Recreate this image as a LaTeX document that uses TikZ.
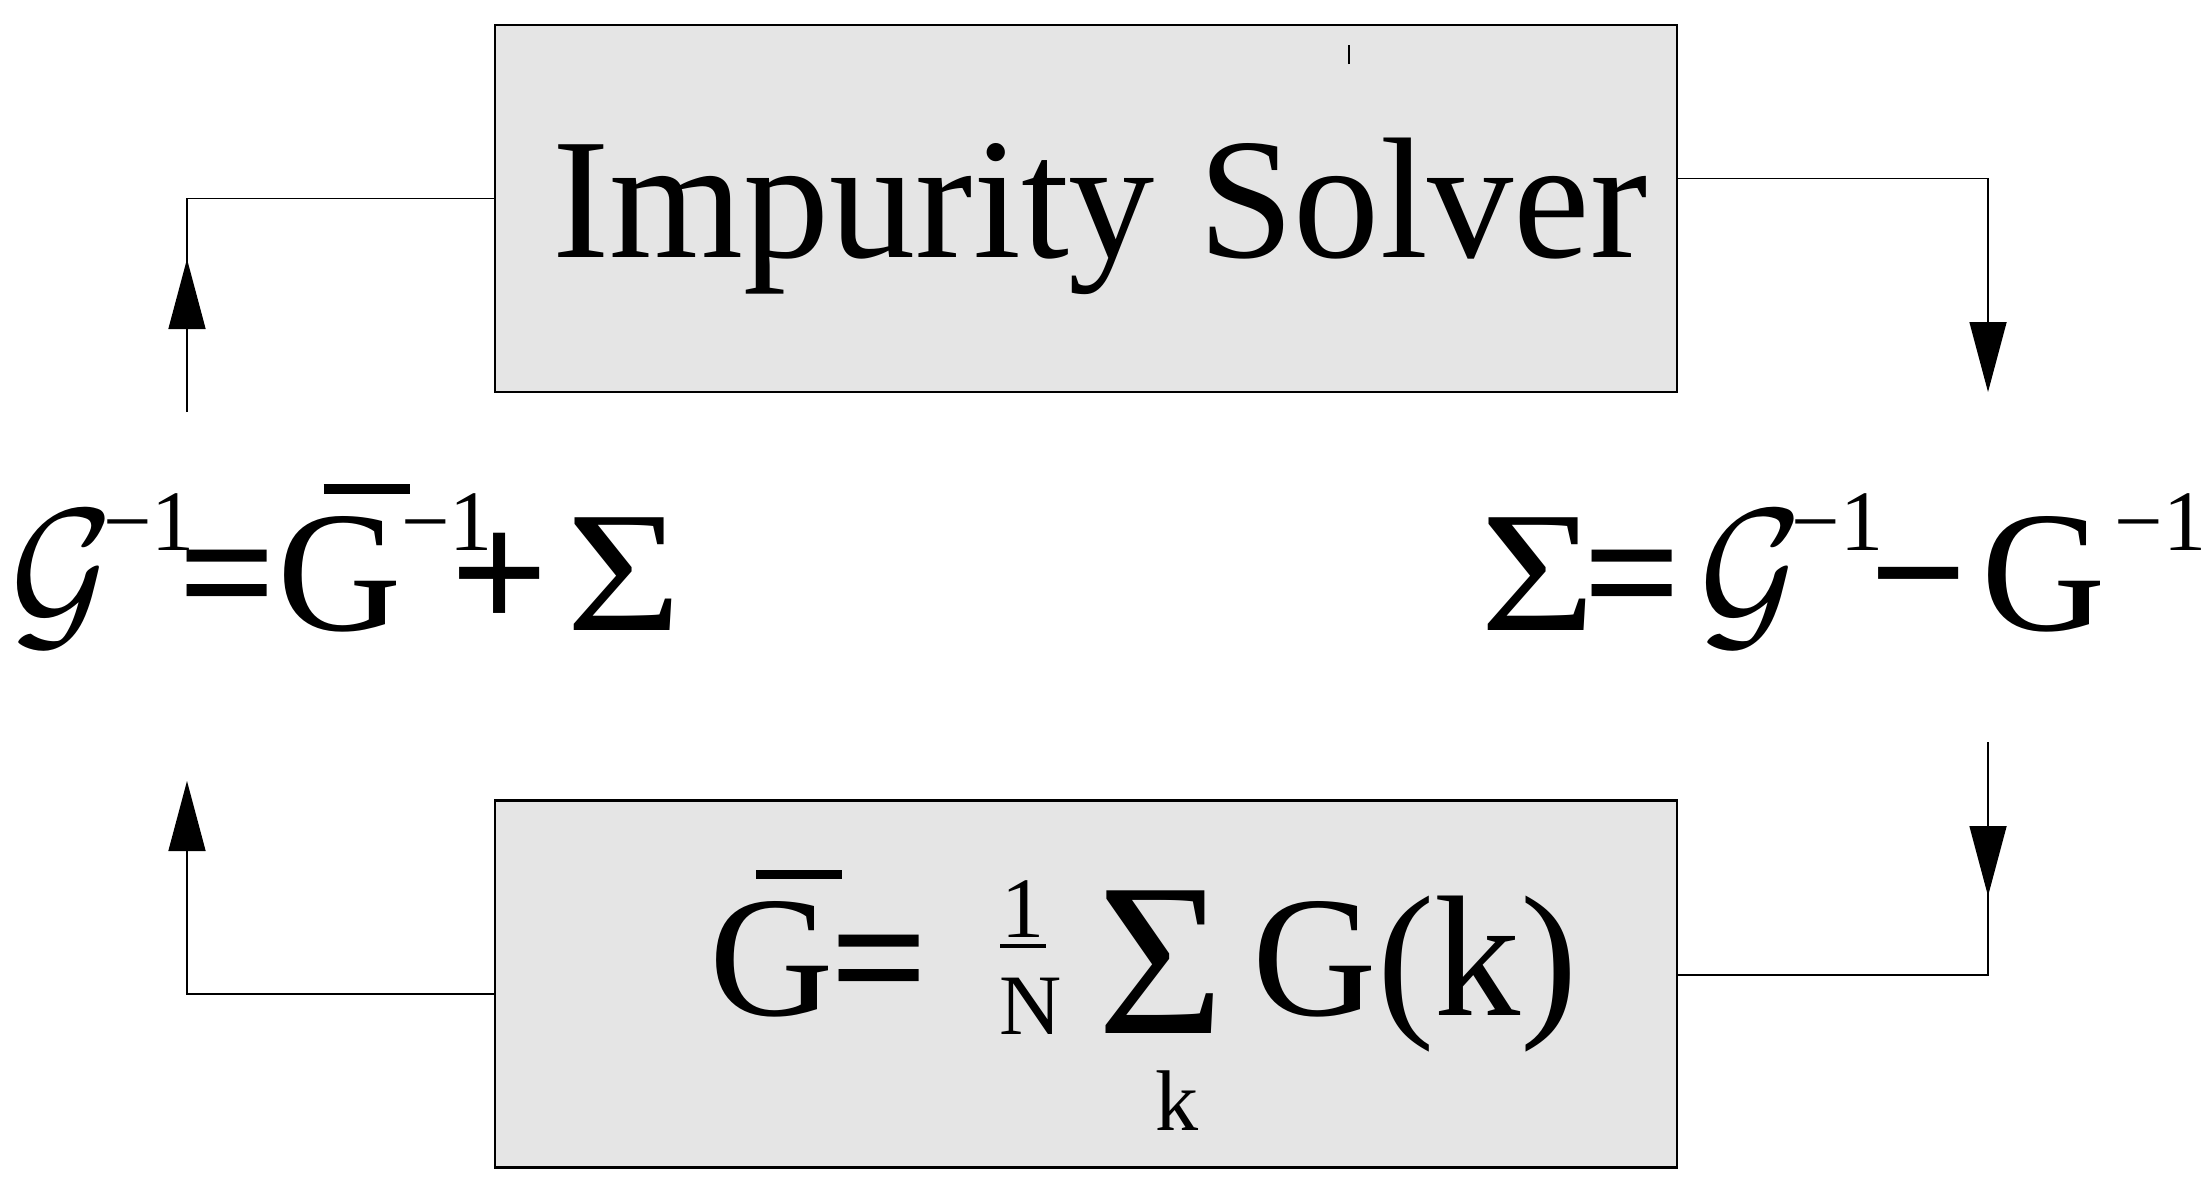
\documentclass[tikz,border=0pt]{standalone}
\usepackage{graphicx}
\usepackage{fontspec}
\setmainfont{Liberation Serif}
\usetikzlibrary{arrows.meta}
\usetikzlibrary{decorations.markings}

\definecolor{solvergray}{gray}{0.9}

\newcommand{\inv}{\raisebox{22.5pt}{\fontsize{24.5}{25}\selectfont −1}}
\newcommand{\Gbar}{\rlap{\hspace{0.27em}\rule[0.79em]{0.5em}{0.055em}}G}
\newcommand{\Sig}{\scalebox{1.15}[1]{Σ}}
\newcommand{\scriptG}{\scalebox{1.8}[2]{\fontsize{24.5}{29}\selectfont$\mathcal{G}$}}

\tikzset{
  loopbox/.style={draw, line width=0.6pt, fill=solvergray, minimum width=11.82cm, minimum height=3.67cm, inner sep=0pt},
  bigtext/.style={font=\fontsize{49}{58}\selectfont, inner sep=0pt},
  smalltext/.style={font=\fontsize{24.5}{29}\selectfont, inner sep=0pt},
  flow/.style={line width=0.45pt},
  flowtip/.style={-{Triangle[length=7mm,width=3.7mm]}},
  midtip/.style={postaction={decorate},
    decoration={markings, mark=at position #1 with {\arrow{Triangle[length=7mm,width=3.7mm]}}}}
}

\begin{document}
\begin{tikzpicture}
	\useasboundingbox (0,0) rectangle (22.12,11.82);
	
	% the two boxes
	\node[loopbox] (imp) at (10.86,9.735) {};
	\node[loopbox] (avg) at (10.86,1.98) {};
	\draw[line width=0.6pt] (13.49,11.18) -- (13.49,11.37);
	
	\node[bigtext, anchor=base] (implabel) at (11.00,9.25) {Impurity Solver};
	
	% equations left and right
	\node[bigtext, anchor=base west] (lefteq) at (0.10,5.52) {\scriptG\kern-3pt\inv\kern-4.5pt\textbf{=}\Gbar\inv\kern-12pt\textbf{+}\kern5pt\Sig};
	\node[bigtext, anchor=base west] (righteq) at (14.80,5.52) {\Sig\kern-3.5pt\textbf{=}\kern5pt\scriptG\kern-3pt\inv\kern-4pt\textbf{−}\kern4pt G\kern2.5pt\inv};
	
	% lattice sum
	\node[bigtext, anchor=base west] (gbar) at (7.09,1.67) {\Gbar\kern-1pt\textbf{=}};
	\node[smalltext, anchor=base] (one) at (10.23,2.45) {1};
	\node[smalltext, anchor=base] (enn) at (10.305,1.48) {N};
	\draw[line width=1.1pt] (10.00,2.36) -- (10.46,2.36);
	\node[font=\fontsize{62}{70}\selectfont, inner sep=0pt, anchor=base west] (ksum) at (10.97,1.49) {Σ};
	\node[smalltext, anchor=base] (kidx) at (11.77,0.52) {k};
	\node[bigtext, anchor=base west] (gk) at (12.52,1.67) {G(k)};
	
	% the loop
	\coordinate (lu) at (1.87,7.70);
	\coordinate (ll) at (1.87,4.01);
	\coordinate (ru) at (19.88,7.90);
	\coordinate (rl) at (19.88,4.40);
	\draw[flow, midtip=1.53cm] (lu) |- ([yshift=1mm]imp.west);
	\draw[flow, flowtip] ([yshift=3mm]imp.east) -| (ru);
	\draw[flow, midtip=1.54cm] (rl) |- ([yshift=0.9mm]avg.east);
	\draw[flow, flowtip] ([yshift=-1mm]avg.west) -| (ll);
	
\end{tikzpicture}
\end{document}
